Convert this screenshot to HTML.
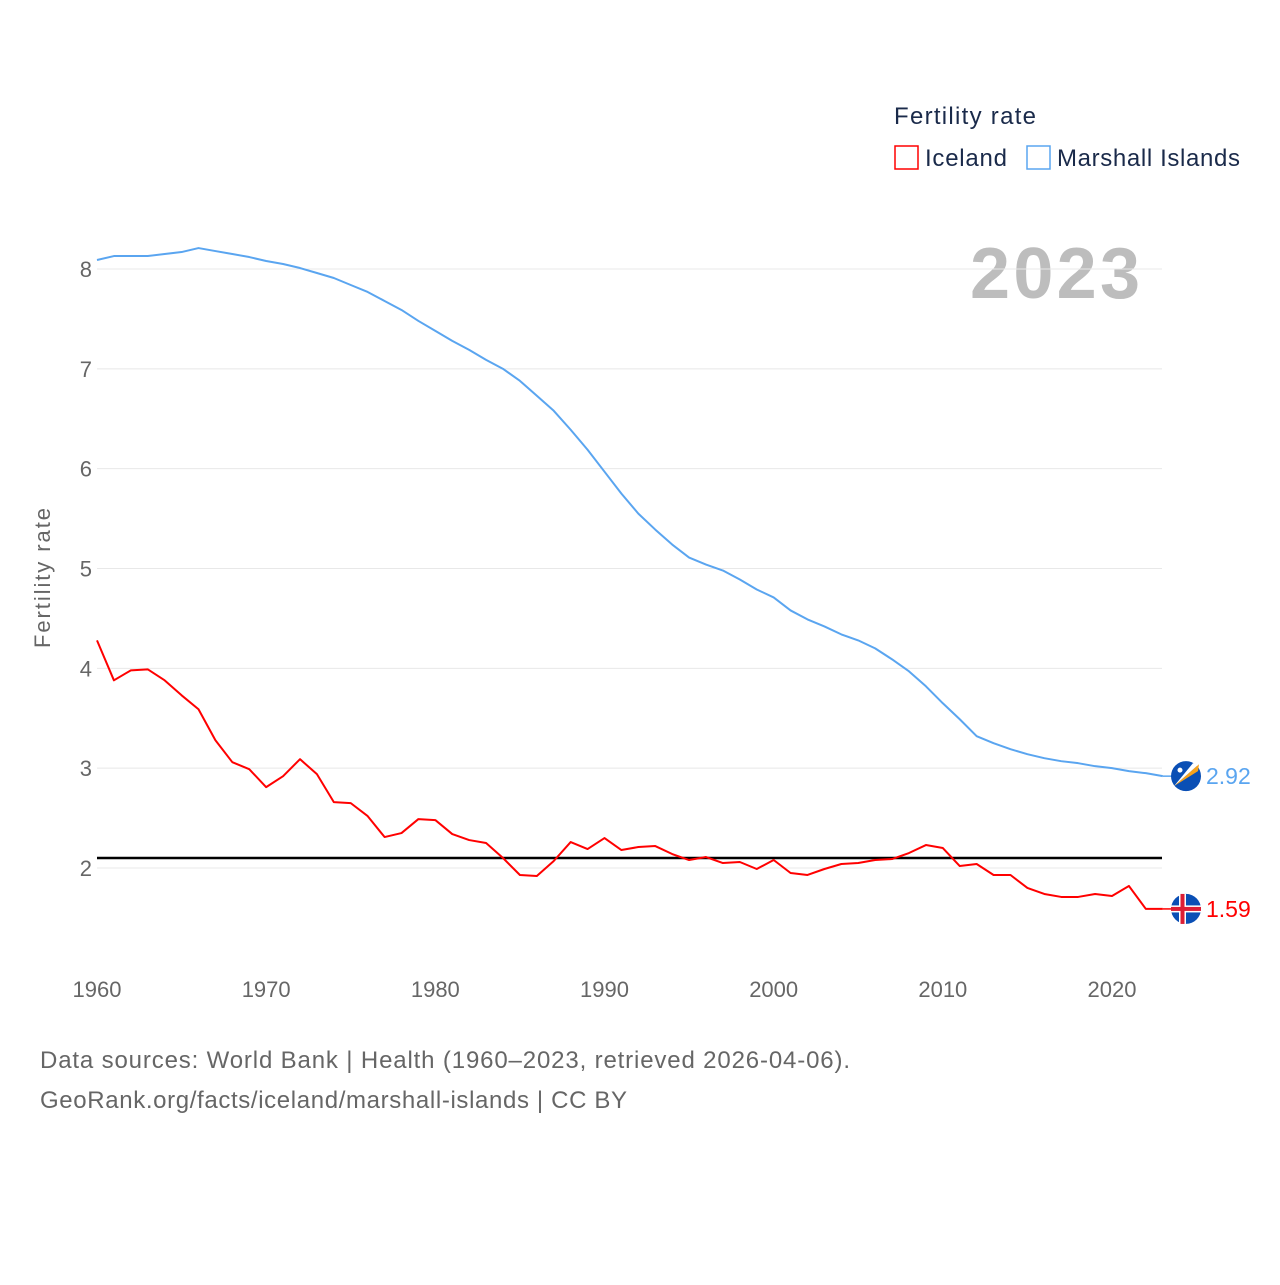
<!DOCTYPE html>
<html><head><meta charset="utf-8"><style>
body{margin:0;background:#fff;font-family:"Liberation Sans",sans-serif}
svg text{font-family:"Liberation Sans",sans-serif}
</style></head><body>
<svg id="c" width="1280" height="1280" xmlns="http://www.w3.org/2000/svg">
<text x="894" y="124" font-size="24" fill="#1a2a4a" textLength="142">Fertility rate</text>
<g><rect x="895" y="146" width="23" height="23" fill="none" stroke="#f00" stroke-width="1.5"/><text x="925" y="166" font-size="24" fill="#1a2a4a" textLength="82">Iceland</text></g>
<g><rect x="1027" y="146" width="23" height="23" fill="none" stroke="#5aa5f0" stroke-width="1.5"/><text x="1057" y="166" font-size="24" fill="#1a2a4a" textLength="183">Marshall Islands</text></g>
<text x="970" y="298" font-size="72" font-weight="bold" fill="#bdbdbd" textLength="170">2023</text>
<text transform="translate(50,578) rotate(-90)" font-size="22" fill="#666" text-anchor="middle" textLength="140">Fertility rate</text>
<g id="grid"></g><g id="ticks"></g><g id="lines"></g>
<text x="40" y="1068" font-size="24" fill="#666" textLength="810">Data sources: World Bank | Health (1960–2023, retrieved 2026-04-06).</text>
<text x="40" y="1108" font-size="24" fill="#666" textLength="587">GeoRank.org/facts/iceland/marshall-islands | CC BY</text>
</svg>
<script>
const years=[];for(let y=1960;y<=2023;y++)years.push(y);
const iceland=[4.28,3.88,3.98,3.99,3.88,3.73,3.59,3.28,3.06,2.99,2.81,2.92,3.09,2.94,2.66,2.65,2.52,2.31,2.35,2.49,2.48,2.34,2.28,2.25,2.10,1.93,1.92,2.07,2.26,2.19,2.30,2.18,2.21,2.22,2.14,2.08,2.11,2.05,2.06,1.99,2.08,1.95,1.93,1.99,2.04,2.05,2.08,2.09,2.15,2.23,2.20,2.02,2.04,1.93,1.93,1.80,1.74,1.71,1.71,1.74,1.72,1.82,1.59,1.59];
const marshall=[8.09,8.13,8.13,8.13,8.15,8.17,8.21,8.18,8.15,8.12,8.08,8.05,8.01,7.96,7.91,7.84,7.77,7.68,7.59,7.48,7.38,7.28,7.19,7.09,7.00,6.88,6.73,6.58,6.39,6.19,5.97,5.75,5.55,5.39,5.24,5.11,5.04,4.98,4.89,4.79,4.71,4.58,4.49,4.42,4.34,4.28,4.20,4.09,3.97,3.82,3.65,3.49,3.32,3.25,3.19,3.14,3.10,3.07,3.05,3.02,3.00,2.97,2.95,2.92];
const yTicks=[2,3,4,5,6,7,8];
const xTicks=[1960,1970,1980,1990,2000,2010,2020];
const replacement=[2.1];
const NS="http://www.w3.org/2000/svg";
const X=v=>97+(v-1960)*(1112-97)/60;
const Y=v=>868-(v-2)*99.83;
function mk(t,a,p){const e=document.createElementNS(NS,t);for(const k in a)e.setAttribute(k,a[k]);p.appendChild(e);return e;}
const g=document.getElementById('grid'),tk=document.getElementById('ticks'),ln=document.getElementById('lines');
yTicks.forEach(v=>{
 const l=mk('line',{x1:97,x2:1162,y1:Y(v),y2:Y(v),stroke:'#e8e8e8','stroke-width':1},g);
 
 
 const t=mk('text',{x:92,y:Y(v)+8,'font-size':22,fill:'#666','text-anchor':'end'},tk);t.textContent=v;
 
 
});
xTicks.forEach(v=>{
 const t=mk('text',{x:X(v),y:997,'font-size':22,fill:'#666','text-anchor':'middle'},tk);t.textContent=v;
 
 
});
replacement.forEach(v=>{
 const l=mk('line',{x1:97,x2:1162,y1:Y(v),y2:Y(v),stroke:'#000','stroke-width':2.5},ln);
 
 
});
function series(data,col,name){
 const p=mk('polyline',{points:data.map((v,i)=>X(years[i])+','+Y(v)).join(' '),fill:'none',stroke:col,'stroke-width':2,'stroke-linejoin':'round'},ln);
 
 
 const last=data[data.length-1],ly=Y(last),lx=X(years[years.length-1]);
 mk('line',{x1:lx,x2:1172,y1:ly,y2:ly,stroke:col,'stroke-width':1.5},ln);
 const c=mk('circle',{cx:1186,cy:ly,r:15,fill:'#0a4fb5'},ln);
 
 
 if(name==='iceland'){
  mk('rect',{x:1171,y:ly-3.5,width:30,height:7,fill:'#fff'},ln);
  mk('rect',{x:1179,y:ly-15,width:7,height:30,fill:'#fff'},ln);
  mk('rect',{x:1171,y:ly-2,width:30,height:4,fill:'#dc1e35'},ln);
  mk('rect',{x:1180.5,y:ly-15,width:4,height:30,fill:'#dc1e35'},ln);
 } else {
  mk('path',{d:`M1174 ${ly+10} L1199 ${ly-12} L1198 ${ly-5} Z`,fill:'#f7a21b'},ln);
  mk('path',{d:`M1174 ${ly+10} L1199 ${ly-12} L1193 ${ly-13} Z`,fill:'#fff'},ln);
  mk('circle',{cx:1180,cy:ly-6,r:2.5,fill:'#fff'},ln);
 }
 const t=mk('text',{x:1206,y:ly+8,'font-size':23,fill:col},ln);t.textContent=last.toFixed(2);
 
 
}
series(marshall,'#5aa5f0','marshall-islands');
series(iceland,'#ff0000','iceland');
</script>
</body></html>
